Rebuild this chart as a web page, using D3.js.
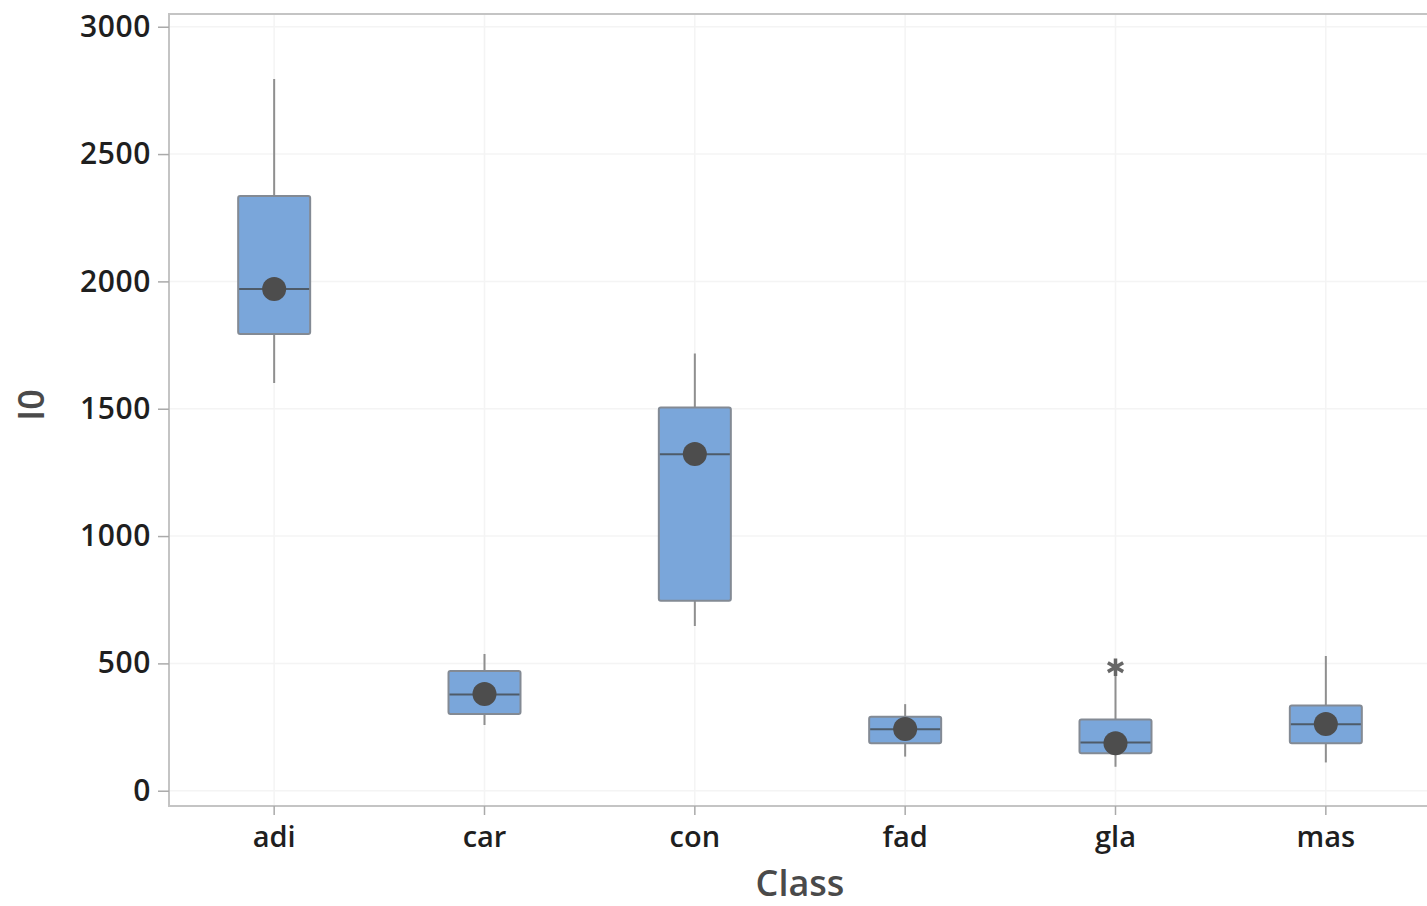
<!DOCTYPE html>
<html>
<head>
<meta charset="utf-8">
<script src="https://cdn.jsdelivr.net/npm/d3@7"></script>
<style>
    body { margin: 0; background: #fff; }
    text { font-family: "Open Sans", "Noto Sans", sans-serif; }
</style>
</head>
<body>
<script>
//chart values
var classes = ["adi", "car", "con", "fad", "gla", "mas"];
var whiskerLow = [1601, 258, 647, 134, 94, 111];
var q1 = [1793, 301, 746, 186, 147, 186];
var median = [1970, 378, 1321, 241, 189, 261];
var q3 = [2335, 470, 1505, 290, 280, 335];
var whiskerHigh = [2795, 537, 1717, 340, 454, 529];
var means = [1970, 380, 1322, 242, 186, 262];
var outliers = [{ cls: "gla", value: 485 }];
var yTicks = [0, 500, 1000, 1500, 2000, 2500, 3000];

window.onload = function(){

    var w = 1427, h = 906;
    var left = 169, right = 1431, top = 14, bottom = 806;

    var boxes = classes.map(function(c, i){
        return { cls: c, lo: whiskerLow[i], q1: q1[i], med: median[i], q3: q3[i], hi: whiskerHigh[i], mean: means[i] };
    });

    var svg = d3.select("body").append("svg")
        .attr("width", w)
        .attr("height", h);

    var x = d3.scaleBand()
        .domain(classes)
        .range([left, right]);

    var y = d3.scaleLinear()
        .domain([-60, 3050])
        .range([bottom, top]);

    var boxW = 72;

    //faint grid
    svg.append("g").selectAll("line.hgrid")
        .data(yTicks)
        .enter().append("line")
        .attr("x1", left).attr("x2", right)
        .attr("y1", function(d){ return y(d); })
        .attr("y2", function(d){ return y(d); })
        .style("stroke", "#f4f4f4")
        .style("stroke-width", 1.5);

    svg.append("g").selectAll("line.vgrid")
        .data(classes)
        .enter().append("line")
        .attr("x1", function(d){ return x(d) + x.bandwidth() / 2; })
        .attr("x2", function(d){ return x(d) + x.bandwidth() / 2; })
        .attr("y1", top).attr("y2", bottom)
        .style("stroke", "#f4f4f4")
        .style("stroke-width", 1.5);

    //frame (top, left, bottom)
    svg.append("path")
        .attr("d", "M" + right + "," + top + "H" + left + "V" + bottom + "H" + right)
        .style("fill", "none")
        .style("stroke", "#c4c4c4")
        .style("stroke-width", 2);

    //axes
    var yAxis = svg.append("g")
        .attr("transform", "translate(" + left + ",0)")
        .call(d3.axisLeft(y).tickValues(yTicks).tickFormat(d3.format("d")).tickSize(11).tickPadding(7));
    yAxis.select(".domain").remove();
    yAxis.selectAll(".tick line").style("stroke", "#aaa").style("stroke-width", 1.5);
    yAxis.selectAll(".tick text")
        .style("font-size", "30px")
        .style("font-weight", 600)
        .style("letter-spacing", "0.6px")
        .style("fill", "#1f1f1f");

    var xAxis = svg.append("g")
        .attr("transform", "translate(0," + bottom + ")")
        .call(d3.axisBottom(x).tickSize(9).tickPadding(11));
    xAxis.select(".domain").remove();
    xAxis.selectAll(".tick line").style("stroke", "#aaa").style("stroke-width", 1.5);
    xAxis.selectAll(".tick text")
        .style("font-size", "29px")
        .style("font-weight", 600)
        .style("fill", "#1f1f1f");

    //axis titles
    svg.append("text")
        .attr("x", 800)
        .attr("y", 896)
        .attr("text-anchor", "middle")
        .style("font-size", "36px")
        .style("font-weight", 600)
        .style("fill", "#4a4a4a")
        .text("Class");

    svg.append("text")
        .attr("transform", "translate(44,405) rotate(-90)")
        .attr("text-anchor", "middle")
        .style("font-size", "36px")
        .style("font-weight", 600)
        .style("fill", "#4a4a4a")
        .text("I0");

    var cx = function(d){ return x(d.cls) + x.bandwidth() / 2; };

    //whiskers
    var g = svg.append("g");
    g.selectAll(".whisker")
        .data(boxes)
        .enter().append("line")
        .attr("class", "whisker")
        .attr("x1", cx).attr("x2", cx)
        .attr("y1", function(d){ return y(d.lo); })
        .attr("y2", function(d){ return y(d.hi); })
        .style("stroke", "#8f8f8f")
        .style("stroke-width", 2);

    //boxes
    g.selectAll(".box")
        .data(boxes)
        .enter().append("rect")
        .attr("class", "box")
        .attr("x", function(d){ return cx(d) - boxW / 2; })
        .attr("y", function(d){ return y(d.q3); })
        .attr("width", boxW)
        .attr("height", function(d){ return y(d.q1) - y(d.q3); })
        .attr("rx", 2)
        .style("fill", "#7aa6da")
        .style("stroke", "#838a94")
        .style("stroke-width", 2);

    //medians
    g.selectAll(".median")
        .data(boxes)
        .enter().append("line")
        .attr("class", "median")
        .attr("x1", function(d){ return cx(d) - boxW / 2 + 1; })
        .attr("x2", function(d){ return cx(d) + boxW / 2 - 1; })
        .attr("y1", function(d){ return y(d.med); })
        .attr("y2", function(d){ return y(d.med); })
        .style("stroke", "#4e5b69")
        .style("stroke-width", 2);

    //mean symbols
    g.selectAll(".mean")
        .data(boxes)
        .enter().append("circle")
        .attr("class", "mean")
        .attr("cx", cx)
        .attr("cy", function(d){ return y(d.mean); })
        .attr("r", 12)
        .style("fill", "#4d4d4d");

    //outliers
    g.selectAll(".outlier")
        .data(outliers)
        .enter().append("path")
        .attr("class", "outlier")
        .attr("transform", function(d){ return "translate(" + cx(d) + "," + y(d.value) + ")"; })
        .attr("d", d3.symbol().type(d3.symbolAsterisk).size(220))
        .style("fill", "none")
        .style("stroke", "#666")
        .style("stroke-width", 3.5);
};
</script>
</body>
</html>
